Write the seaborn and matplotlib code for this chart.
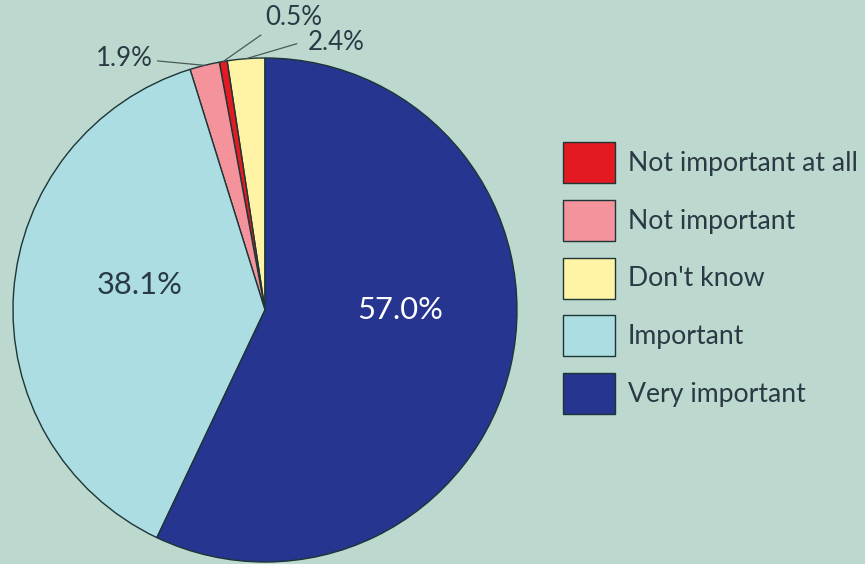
import matplotlib
matplotlib.use("Agg")
import matplotlib.pyplot as plt
import seaborn as sns
import numpy as np

sns.set_theme(style="white")
fam = "Lato"
plt.rcParams['font.family'] = [fam, 'DejaVu Sans']

# Data (counter-clockwise from 12 o'clock)
categories = ["Don't know", "Not important at all", "Not important", "Important", "Very important"]
values = [2.4, 0.5, 1.9, 38.1, 57.0]
labels = ["2.4%", "0.5%", "1.9%", "38.1%", "57.0%"]
colors = ["#fff4a6", "#e41a22", "#f4939c", "#abdde2", "#26358f"]
legend_order = ["Not important at all", "Not important", "Don't know", "Important", "Very important"]

bg = "#bcd8cf"
W, H = 865, 564
fig = plt.figure(figsize=(W / 100, H / 100), dpi=100, facecolor=bg)
renderer = fig.canvas.get_renderer()

def fit_size(s, target_px, base=18):
    t = fig.text(0, 0, s, fontsize=base)
    w = t.get_window_extent(renderer).width
    t.remove()
    return base * target_px / w

fs_leg = fit_size("Not important at all", 228)
fs_big = fit_size("38.1%", 86)
fs_small = fit_size("0.5%", 57)

ax = fig.add_axes([13 / W, 2 / H, 504 / W, 504 / H])
ax.set_facecolor(bg)

wedges, _ = ax.pie(values, colors=colors, startangle=90, counterclock=True,
                   wedgeprops=dict(edgecolor="#1e3535", linewidth=1.0))
ax.set_xlim(-1, 1)
ax.set_ylim(-1, 1)
ax.set_aspect("equal")
ax.axis("off")

txtc = "#2a3a44"
big_pos = {"57.0%": (0.536, 0.0, "white"), "38.1%": (-0.496, 0.10, txtc)}
for lab, (x, y, c) in big_pos.items():
    ax.text(x, y, lab, ha="center", va="center", color=c, fontsize=fs_big)

# small labels with leader lines
small = {
    "2.4%": ((0.171, 1.06), "left", (0.0, 0.6), 6),
    "0.5%": ((-0.0, 1.16), "left", (0.05, 0.0), 2),
    "1.9%": ((-0.445, 1.0), "right", (1.0, 0.4), 1),
}
for w, lab in zip(wedges, labels):
    if lab in small:
        ang = np.deg2rad((w.theta1 + w.theta2) / 2)
        xy = (np.cos(ang), np.sin(ang))
        (tx, ty), ha, rp, sa = small[lab]
        ax.annotate(lab, xy=xy, xytext=(tx, ty), ha=ha, va="center", fontsize=fs_small, color=txtc,
                    arrowprops=dict(arrowstyle="-", color="#4a5a5a", lw=0.9, shrinkA=sa, shrinkB=0,
                                    relpos=rp),
                    annotation_clip=False)

fpx = fs_leg * 100 / 72
hh = (41 / fpx - 0.245) / 0.65
handles = [wedges[categories.index(c)] for c in legend_order]
leg = fig.legend(handles, legend_order, loc="upper left", bbox_to_anchor=(563 / W, 1 - 142 / H),
                 frameon=False, fontsize=fs_leg, handlelength=52 / fpx, handleheight=hh,
                 labelspacing=(57.75 - 41) / fpx, handletextpad=13 / fpx, labelcolor=txtc,
                 borderpad=0, borderaxespad=0)

fig.savefig("out.png", dpi=100, facecolor=bg)
